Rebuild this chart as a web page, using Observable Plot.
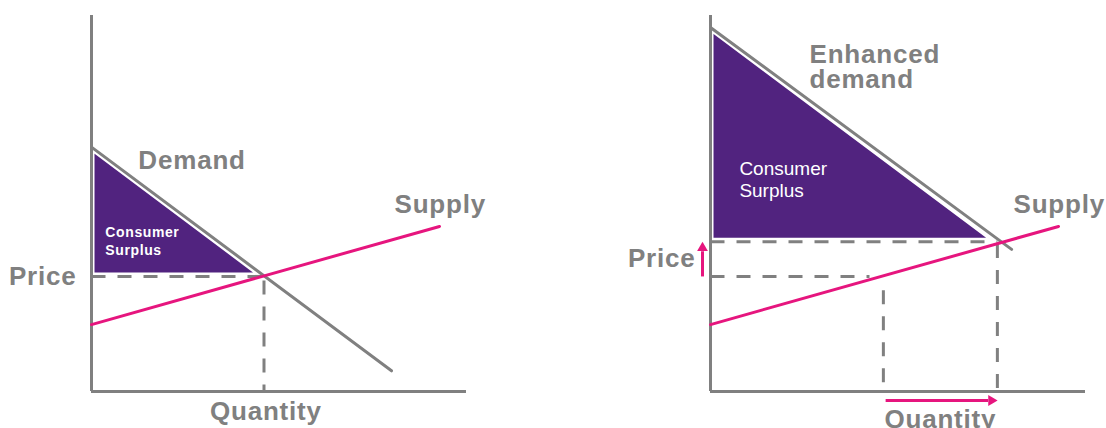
<!DOCTYPE html>
<html><head><meta charset="utf-8">
<script src="https://cdn.jsdelivr.net/npm/d3@7"></script>
<script src="https://cdn.jsdelivr.net/npm/@observablehq/plot@0.6"></script>
<style>html,body{margin:0;padding:0;background:#fff;}</style>
</head><body><div id="chart"></div>
<script>
// ---- data (quantity q, price p in chart units) ----
const panels = ["before", "after"];
const demandBefore = [{q: 0, p: 6.5}, {q: 8.0, p: 0.55}];
const demandAfter = [{q: 0, p: 9.68}, {q: 8.03, p: 3.78}];
const supplyCurve = [{q: 0, p: 1.78}, {q: 9.28, p: 4.39}];
const equilibriumBefore = {q: 4.6, p: 3.06};
const equilibriumAfter = {q: 7.65, p: 3.98};
// dashed guide segments
const guidesBefore = [
  {q1: 0, p1: 3.06, q2: 4.6, p2: 3.06},
  {q1: 4.6, p1: 2.95, q2: 4.6, p2: 0}
];
const guidesAfter = [
  {q1: 0, p1: 3.98, q2: 7.65, p2: 3.98},
  {q1: 7.65, p1: 3.92, q2: 7.65, p2: 0},
  {q1: 0, p1: 3.06, q2: 4.24, p2: 3.06},
  {q1: 4.61, p1: 2.69, q2: 4.61, p2: 0}
];
const curveLabels = [
  {panel: "before", text: "Demand", q: 1.25, p: 6.14},
  {panel: "before", text: "Supply", q: 8.08, p: 4.97},
  {panel: "after", text: "Enhanced\ndemand", q: 2.64, p: 8.62},
  {panel: "after", text: "Supply", q: 8.08, p: 4.97}
];
const priceLabels = [{panel: "before", p: 3.06}, {panel: "after", p: 3.52}];
const quantityLabels = [{panel: "before", q: 4.65}, {panel: "after", q: 6.13}];
const surplusLabels = [
  {panel: "before", text: "Consumer\nSurplus", q: 0.37, p: 4.02},
  {panel: "after", text: "Consumer\nSurplus", q: 0.77, p: 5.64}
];
// arrows showing the shift (after panel)
const priceShift = [{q: 0, p1: equilibriumBefore.p, p2: equilibriumAfter.p}];
const quantityShift = [{q1: 4.67, q2: equilibriumAfter.q}];

// ---- build tables ----
const tag = (arr, panel) => arr.map(d => ({...d, panel}));
const demand = [...tag(demandBefore, "before"), ...tag(demandAfter, "after")];
const guides = [...tag(guidesBefore, "before"), ...tag(guidesAfter, "after")];
const surplus = [
  {panel: "before", q: 0, lo: equilibriumBefore.p, hi: demandBefore[0].p},
  {panel: "before", q: equilibriumBefore.q, lo: equilibriumBefore.p, hi: equilibriumBefore.p},
  {panel: "after", q: 0, lo: equilibriumAfter.p, hi: demandAfter[0].p},
  {panel: "after", q: equilibriumAfter.q, lo: equilibriumAfter.p, hi: equilibriumAfter.p}
];

const GREY = "#808080", PINK = "#e6157e", PURPLE = "#51237f";
const font = "'Liberation Sans', Arial, sans-serif";

const chart = Plot.plot({
  width: 1106, height: 428,
  marginLeft: 91, marginRight: 21, marginTop: 15, marginBottom: 37,
  fx: {domain: panels, paddingInner: 0.3942, paddingOuter: 0, round: false, axis: null},
  x: {domain: [0, 10], axis: null},
  y: {domain: [0, 10], axis: null},
  style: {fontFamily: font, background: "#fff", overflow: "visible"},
  marks: [
    Plot.areaY(surplus, {x: "q", y1: "lo", y2: "hi", fx: "panel", z: "panel",
      fill: PURPLE, stroke: "#fff", strokeWidth: 7, strokeLinejoin: "round"}),
    Plot.ruleX([0], {stroke: GREY, strokeWidth: 3}),
    Plot.ruleY([0], {stroke: GREY, strokeWidth: 3}),
    Plot.link(guides, {x1: "q1", y1: "p1", x2: "q2", y2: "p2", fx: "panel",
      stroke: GREY, strokeWidth: 3, strokeDasharray: "14,12"}),
    Plot.line(demand, {x: "q", y: "p", fx: "panel", z: "panel", stroke: GREY, strokeWidth: 3}),
    Plot.line(supplyCurve, {x: "q", y: "p", stroke: PINK, strokeWidth: 3}),
    // shift arrows
    Plot.link(priceShift, {x1: "q", x2: "q", y1: "p1", y2: (d) => d.p2 - 0.25, fx: () => "after",
      dx: -8, stroke: PINK, strokeWidth: 3}),
    Plot.dot(priceShift, {x: "q", y: "p2", fx: () => "after", dx: -8, dy: 6,
      symbol: "triangle", r: 4, fill: PINK, stroke: null}),
    Plot.link(quantityShift, {x1: "q1", x2: (d) => d.q2 - 0.25, y1: () => 0, y2: () => 0,
      fx: () => "after", dy: 9, stroke: PINK, strokeWidth: 3}),
    Plot.dot(quantityShift, {x: "q2", y: () => 0, fx: () => "after", dx: -6, dy: 9,
      symbol: "triangle", rotate: 90, r: 4, fill: PINK, stroke: null}),
    // labels
    Plot.text(curveLabels, {x: "q", y: "p", text: "text", fx: "panel", textAnchor: "start",
      fontSize: 26, fontWeight: "bold", fill: GREY, lineHeight: 0.95}),
    Plot.text(priceLabels, {x: () => 0, y: "p", text: () => "Price", fx: "panel", textAnchor: "end",
      dx: -15, fontSize: 26, fontWeight: "bold", fill: GREY}),
    Plot.text(quantityLabels.filter(d => d.panel === "before"), {x: "q", y: () => 0, text: () => "Quantity",
      fx: "panel", dy: 20, fontSize: 26, fontWeight: "bold", fill: GREY}),
    Plot.text(quantityLabels.filter(d => d.panel === "after"), {x: "q", y: () => 0, text: () => "Quantity",
      fx: "panel", dy: 28, fontSize: 26, fontWeight: "bold", fill: GREY}),
    Plot.text(surplusLabels.filter(d => d.panel === "before"), {x: "q", y: "p", text: "text", fx: "panel",
      textAnchor: "start", fontSize: 14, fontWeight: "bold", fill: "#fff", lineHeight: 1.29}),
    Plot.text(surplusLabels.filter(d => d.panel === "after"), {x: "q", y: "p", text: "text", fx: "panel",
      textAnchor: "start", fontSize: 19, fill: "#fff", lineHeight: 1.16})
  ]
});
// slightly wider tracking for the bold labels, as in the reference
chart.querySelectorAll('g[font-size="26"]').forEach(g => g.setAttribute("letter-spacing", "0.8"));
chart.querySelectorAll('g[font-size="14"]').forEach(g => g.setAttribute("letter-spacing", "0.6"));
document.getElementById("chart").appendChild(chart);
</script>
</body></html>
